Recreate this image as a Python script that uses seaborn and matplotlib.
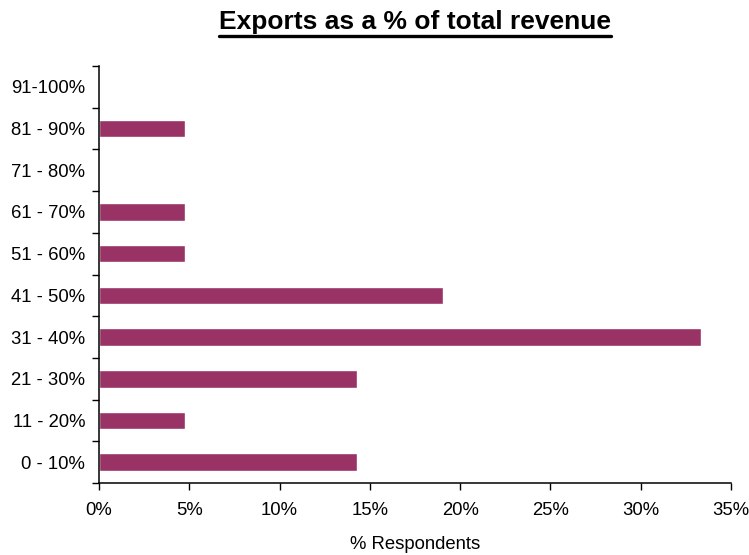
import matplotlib
matplotlib.use("Agg")
import matplotlib.pyplot as plt
from matplotlib.lines import Line2D
from matplotlib.ticker import FuncFormatter, FixedLocator
import seaborn as sns
import pandas as pd

# Share of respondents per export band (bottom band first)
bands = ["0 - 10%", "11 - 20%", "21 - 30%", "31 - 40%", "41 - 50%",
         "51 - 60%", "61 - 70%", "71 - 80%", "81 - 90%", "91-100%"]
respondents_pct = [14.29, 4.76, 14.29, 33.33, 19.05, 4.76, 4.76, 0.0, 4.76, 0.0]
x_ticks = [0, 5, 10, 15, 20, 25, 30, 35]

sns.set_theme(style="white")
plt.rcParams["font.family"] = ["Liberation Sans", "DejaVu Sans"]

W, H = 749, 555
fig = plt.figure(figsize=(W / 100, H / 100), dpi=100)
ax = fig.add_axes([99 / W, (H - 483) / H, (731 - 99) / W, (483 - 66) / H])

# Top band drawn first so it sits at the top of the axis
df = pd.DataFrame({"band": bands[::-1], "pct": respondents_pct[::-1]})
sns.barplot(data=df, y="band", x="pct", order=bands[::-1], color="#993366",
            saturation=1, width=0.42, orient="h", ax=ax)

ax.set_xlim(0, 35)
ax.set_ylim(len(bands) - 0.5, -0.5)
ax.xaxis.set_major_locator(FixedLocator(x_ticks))
ax.xaxis.set_major_formatter(FuncFormatter(lambda v, p: f"{v:.0f}%"))

# Band labels centred, tick marks on the boundaries between bands
ax.set_yticks(range(len(bands)))
ax.set_yticklabels(bands[::-1])
ax.set_yticks([i - 0.5 for i in range(len(bands) + 1)], minor=True)
ax.tick_params(axis="y", which="major", length=0, pad=10, labelsize=13.3, colors="#000000")
ax.tick_params(axis="y", which="minor", left=True, length=5, width=1, color="#000000")
ax.tick_params(axis="x", which="major", bottom=True, length=5, width=1, color="#000000",
               labelsize=13.3, pad=9, labelcolor="#000000")

for side in ("top", "right"):
    ax.spines[side].set_visible(False)
for side in ("left", "bottom"):
    ax.spines[side].set_visible(True)
    ax.spines[side].set_color("#000000")
    ax.spines[side].set_linewidth(1.1)

ax.set_ylabel("")
ax.set_xlabel("% Respondents", fontsize=13.3, color="#000000", labelpad=12)

# Bold underlined title
title = fig.text(0.554, 1 - 29 / H, "Exports as a % of total revenue", ha="center",
                 va="baseline", fontsize=19, fontweight="bold", color="#000000")
fig.canvas.draw()
bb = title.get_window_extent(fig.canvas.get_renderer())
y_ul = 1 - 35.5 / H
fig.add_artist(Line2D([bb.x0 / W, bb.x1 / W], [y_ul, y_ul], transform=fig.transFigure,
                      color="#000000", linewidth=2.4))

fig.savefig("out.png", dpi=100, facecolor="white")
